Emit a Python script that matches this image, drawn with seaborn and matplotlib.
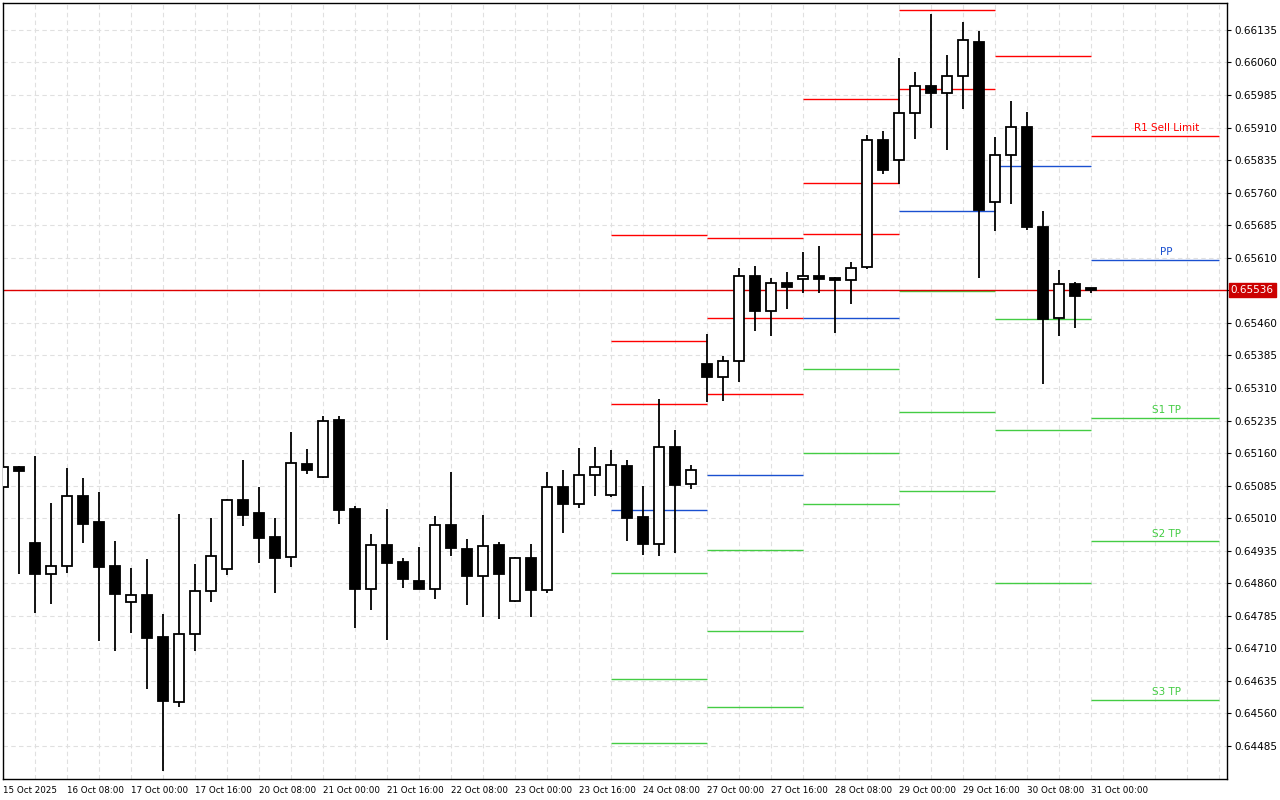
import matplotlib
matplotlib.use("Agg")
import matplotlib.pyplot as plt
import seaborn as sns
import numpy as np
import pandas as pd

sns.set_style("white")
plt.rcParams['font.family'] = ['DejaVu Sans']

# H4 candles (index 0..68)
opens = [0.65082,0.65128,0.64953,0.64881,0.64900,0.65061,0.65001,0.64900,0.64817,0.64833,
         0.64736,0.64586,0.64743,0.64842,0.64893,0.65052,0.65022,0.64967,0.64921,0.65135,
         0.65105,0.65236,0.65031,0.64847,0.64948,0.64909,0.64865,0.64847,0.64994,0.64939,
         0.64877,0.64948,0.64819,0.64918,0.64845,0.65082,0.65043,0.65110,0.65063,0.65130,
         0.65013,0.64951,0.65174,0.65089,0.65365,0.65335,0.65372,0.65568,0.65487,0.65552,
         0.65561,0.65568,0.65564,0.65559,0.65589,0.65882,0.65835,0.65944,0.66006,0.65990,
         0.66029,0.66107,0.65739,0.65847,0.65912,0.65681,0.65471,0.65550,0.65540]
highs = [0.65140,0.65130,0.65153,0.65045,0.65126,0.65103,0.65070,0.64957,0.64895,0.64916,
         0.64789,0.65020,0.64904,0.65010,0.65054,0.65144,0.65082,0.65010,0.65209,0.65169,
         0.65245,0.65245,0.65038,0.64974,0.65031,0.64918,0.64944,0.65015,0.65116,0.64962,
         0.65017,0.64955,0.64921,0.64951,0.65116,0.65121,0.65172,0.65174,0.65167,0.65144,
         0.65084,0.65285,0.65213,0.65133,0.65434,0.65384,0.65587,0.65591,0.65564,0.65577,
         0.65623,0.65637,0.65566,0.65600,0.65893,0.65902,0.66070,0.66038,0.66172,0.66077,
         0.66153,0.66133,0.65888,0.65971,0.65946,0.65718,0.65582,0.65554,0.65540]
lows = [0.65075,0.64881,0.64792,0.64812,0.64884,0.64953,0.64727,0.64704,0.64745,0.64616,
        0.64427,0.64575,0.64704,0.64817,0.64879,0.64992,0.64907,0.64838,0.64898,0.65112,
        0.65103,0.64997,0.64757,0.64798,0.64729,0.64849,0.64847,0.64824,0.64923,0.64810,
        0.64782,0.64778,0.64817,0.64782,0.64838,0.64976,0.65033,0.65061,0.65059,0.64957,
        0.64925,0.64923,0.64930,0.65077,0.65278,0.65280,0.65324,0.65441,0.65430,0.65492,
        0.65529,0.65529,0.65437,0.65504,0.65584,0.65803,0.65780,0.65884,0.65909,0.65858,
        0.65953,0.65564,0.65672,0.65734,0.65674,0.65319,0.65430,0.65448,0.65529]
closes = [0.65128,0.65119,0.64881,0.64900,0.65061,0.64997,0.64898,0.64835,0.64833,0.64734,
          0.64589,0.64743,0.64842,0.64923,0.65052,0.65017,0.64964,0.64918,0.65137,0.65121,
          0.65234,0.65029,0.64847,0.64948,0.64907,0.64870,0.64847,0.64994,0.64941,0.64877,
          0.64946,0.64881,0.64918,0.64845,0.65082,0.65043,0.65110,0.65128,0.65133,0.65010,
          0.64951,0.65174,0.65087,0.65121,0.65335,0.65372,0.65568,0.65487,0.65552,0.65543,
          0.65568,0.65561,0.65559,0.65587,0.65882,0.65812,0.65944,0.66006,0.65990,0.66029,
          0.66112,0.65720,0.65847,0.65912,0.65681,0.65469,0.65550,0.65522,0.65536]

x_tick_labels = ["15 Oct 2025","16 Oct 08:00","17 Oct 00:00","17 Oct 16:00","20 Oct 08:00",
                 "21 Oct 00:00","21 Oct 16:00","22 Oct 08:00","23 Oct 00:00","23 Oct 16:00",
                 "24 Oct 08:00","27 Oct 00:00","27 Oct 16:00","28 Oct 08:00","29 Oct 00:00",
                 "29 Oct 16:00","30 Oct 08:00","31 Oct 00:00"]

# daily pivot levels (start bar index, length in bars)
day_start = [38, 44, 50, 56, 62, 68]
day_len = [6, 6, 6, 6, 6, 8]
R3 = [0.65663, 0.65656, 0.65976, None, None, None]
R2 = [0.65418, 0.65471, 0.65782, 0.66181, None, None]
R1 = [0.65273, 0.65296, 0.65665, 0.65999, 0.66075, 0.65891]
PP = [0.65029, 0.65110, 0.65471, 0.65718, 0.65822, 0.65605]
S1 = [0.64884, 0.64937, 0.65354, 0.65533, 0.65469, 0.65241]
S2 = [0.64639, 0.64750, 0.65160, 0.65255, 0.65213, 0.64957]
S3 = [0.64492, 0.64575, 0.65043, 0.65073, 0.64861, 0.64591]
last_price = 0.65536

RED = "#ff0000"; BLUE = "#1a50d0"; GREEN = "#44cc44"

df = pd.DataFrame({"o": opens, "h": highs, "l": lows, "c": closes})
df["i"] = np.arange(len(df))

fig = plt.figure(figsize=(12.8, 8), dpi=100)
ax = fig.add_axes([3/1280, 21/800, 1224/1280, 776/800])
ymin, ymax = 0.64409, 0.66197
ax.set_xlim(0, 76.5)
ax.set_ylim(ymin, ymax)

yt = [0.64485 + 0.00075*k for k in range(23)]
ax.set_yticks(yt)
ax.set_xticks(np.arange(0, 69, 4))
ax.set_xticklabels(x_tick_labels, fontsize=6.3, ha="left")
ax.yaxis.tick_right()
ax.set_yticklabels(["" if abs(v - 0.65535) < 1e-6 else f"{v:.5f}" for v in yt], fontsize=7.5)
ax.tick_params(axis="both", length=3, width=0.8, pad=2, colors="black")
for s in ax.spines.values():
    s.set_color("black"); s.set_linewidth(1)

# grid
for v in yt:
    ax.axhline(v, color="#e0e0e0", lw=0.8, ls=(0, (4, 3)), zorder=0)
for xg in range(0, 77, 2):
    ax.axvline(xg, color="#e0e0e0", lw=0.8, ls=(0, (4, 3)), zorder=0)

# pivot segments
levels = [(R3, RED), (R2, RED), (R1, RED), (PP, BLUE), (S1, GREEN), (S2, GREEN), (S3, GREEN)]
for vals, col in levels:
    for s0, ln, v in zip(day_start, day_len, vals):
        if v is not None:
            ax.hlines(v, s0, s0 + ln, color=col, lw=1, zorder=2)

# current price line
ax.axhline(last_price, color="#dd0000", lw=1, zorder=2)

# candles
w = 0.62
ax.vlines(df["i"], df["l"], df["h"], color="black", lw=1.3, zorder=3)
bull = df[df["c"] >= df["o"]]
bear = df[df["c"] < df["o"]]
ax.bar(bull["i"], (bull["c"] - bull["o"]).clip(lower=0.00002), bottom=bull["o"], width=w,
       color="white", edgecolor="black", linewidth=1.3, zorder=4)
ax.bar(bear["i"], (bear["o"] - bear["c"]).clip(lower=0.00002), bottom=bear["c"], width=w,
       color="black", edgecolor="black", linewidth=1.3, zorder=4)

# labels for current day
lab_x = 72.7
for txt, v, col in [("R1 Sell Limit", R1[-1], RED), ("PP", PP[-1], BLUE),
                    ("S1 TP", S1[-1], GREEN), ("S2 TP", S2[-1], GREEN), ("S3 TP", S3[-1], GREEN)]:
    ax.text(lab_x, v + 0.00006, txt, color=col, fontsize=7.5, ha="center", va="bottom", zorder=5)

# price tag
ax.text(1.003, (last_price - ymin)/(ymax - ymin), f"{last_price:.5f}", transform=ax.transAxes,
        fontsize=7.5, color="white", va="center", ha="left",
        bbox=dict(boxstyle="square,pad=0.2", fc="#cc0000", ec="#cc0000"), clip_on=False)

fig.savefig("out.png", dpi=100)
